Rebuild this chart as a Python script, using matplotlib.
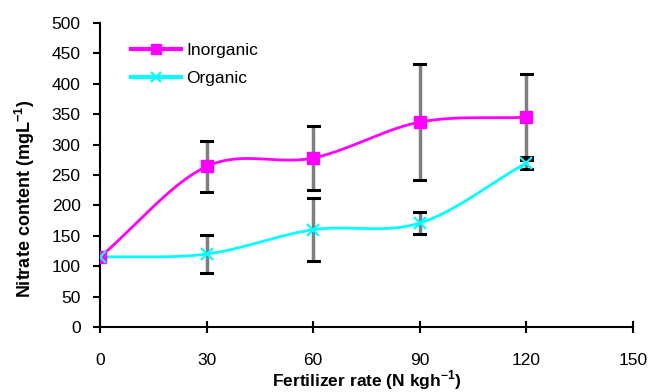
import numpy as np
import matplotlib.pyplot as plt

plt.rcParams['font.family'] = ['Liberation Sans', 'DejaVu Sans']
plt.rcParams['mathtext.fontset'] = 'custom'
plt.rcParams['mathtext.rm'] = 'Liberation Sans:bold'
plt.rcParams['mathtext.bf'] = 'Liberation Sans:bold'

# donnees
doses = [0, 30, 60, 90, 120]
inorganique = [115, 264, 278, 337, 345]
err_inorg = [0, 42, 53, 95, 71]
organique = [115, 120, 160, 171, 270]
err_org = [0, 31, 52, 18, 10]
xticks = [0, 30, 60, 90, 120, 150]
yticks = [0, 50, 100, 150, 200, 250, 300, 350, 400, 450, 500]


def lisser(x, y, n=40):
    # courbe lissee type Catmull-Rom (comme Excel "ligne lissee")
    x = np.asarray(x, float); y = np.asarray(y, float)
    px = np.concatenate([[2*x[0]-x[1]], x, [2*x[-1]-x[-2]]])
    py = np.concatenate([[2*y[0]-y[1]], y, [2*y[-1]-y[-2]]])
    xs, ys = [], []
    t = np.linspace(0, 1, n)
    for i in range(1, len(px)-2):
        for p, out in ((px, xs), (py, ys)):
            p0, p1, p2, p3 = p[i-1], p[i], p[i+1], p[i+2]
            out.extend(0.5*((2*p1) + (-p0+p2)*t + (2*p0-5*p1+4*p2-p3)*t**2
                            + (-p0+3*p1-3*p2+p3)*t**3))
    return np.array(xs), np.array(ys)


fig = plt.figure(figsize=(6.51, 3.92), dpi=100)
ax = fig.add_axes([0.1536, 0.1658, 0.8187, 0.7755])

# barres d'erreur (trait gris, chapeaux noirs)
for y, e in ((inorganique, err_inorg), (organique, err_org)):
    ax.errorbar(doses[1:], y[1:], yerr=e[1:], fmt='none', ecolor='#7f7f7f',
                elinewidth=2.5, capsize=0, zorder=2)
    for xi, yi, ei in zip(doses[1:], y[1:], e[1:]):
        ax.plot([xi-1.5, xi+1.5], [yi+ei, yi+ei], color='black', lw=2.2, zorder=3)
        ax.plot([xi-1.5, xi+1.5], [yi-ei, yi-ei], color='black', lw=2.2, zorder=3)

xs, ys = lisser(doses, inorganique)
ax.plot(xs, ys, color='#FF00FF', lw=2, zorder=4)
ax.plot(doses, inorganique, 's', color='#FF00FF', ms=9, zorder=5)
xs, ys = lisser(doses, organique)
ax.plot(xs, ys, color='#00FFFF', lw=2, zorder=4)
ax.plot(doses, organique, 'x', color='#00FFFF', ms=9, mew=1.6, zorder=5)

# legende
ax.plot([], [], '-s', color='#FF00FF', lw=3, ms=7, label='Inorganic')
ax.plot([], [], '-x', color='#00FFFF', lw=3, ms=7, mew=1.6, label='Organic')
ax.legend(loc='upper left', bbox_to_anchor=(0.035, 0.975), frameon=False,
          fontsize=12.5, handlelength=2.9, handletextpad=0.3, labelspacing=0.75,
          borderpad=0.2)

ax.set_xlim(0, 150)
ax.set_ylim(0, 500)
ax.set_xticks(xticks)
ax.set_yticks(yticks)
ax.tick_params(axis='x', direction='inout', length=8, width=1.5, pad=15, labelsize=12.5)
ax.tick_params(axis='y', direction='out', length=5, width=1.5, pad=9, labelsize=12.5)
for s in ('top', 'right'):
    ax.spines[s].set_visible(False)
for s in ('left', 'bottom'):
    ax.spines[s].set_linewidth(1.5)

ax.set_ylabel('Nitrate content (mgL$^{-1}$)', fontsize=13, fontweight='bold')
ax.yaxis.set_label_coords(-0.118, 0.42)
ax.set_xlabel('Fertilizer rate (N kgh$^{-1}$)', fontsize=12.5, fontweight='bold')
ax.xaxis.set_label_coords(0.5, -0.135)

fig.savefig('out.png', dpi=100)
